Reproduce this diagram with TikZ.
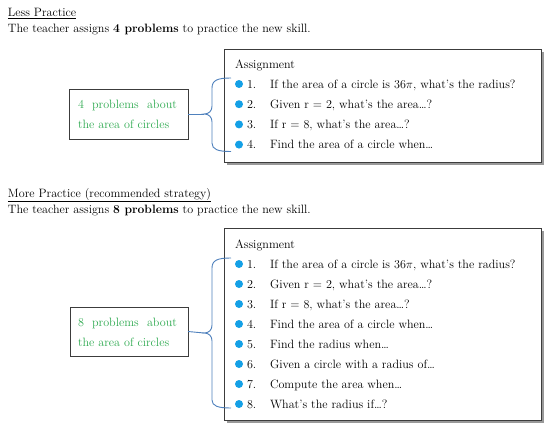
\documentclass[tikz,border=0pt]{standalone}
\usepackage{fontspec}
\definecolor{gtxt}{RGB}{46,170,80}
\definecolor{bul}{RGB}{20,160,230}
\definecolor{brc}{RGB}{79,129,189}
\definecolor{bord}{RGB}{60,60,60}
\begin{document}
\begin{tikzpicture}[x=1pt,y=-1pt,
  every node/.style={font=\fontsize{12.1}{14}\selectfont, inner sep=0pt, outer sep=0pt},
  txt/.style={anchor=base west},
  gt/.style={anchor=base west, text=gtxt},
  gbox/.style={draw=bord, line width=0.9pt, fill=white},
  abox/.style={draw=bord, line width=0.9pt, fill=white},
  shadowbox/.style={fill=black!40, draw=none},
  bulletdot/.style={circle, fill=bul, minimum size=8pt},
  bracec/.style={draw=brc, line width=0.9pt}
]
\useasboundingbox (0,0) rectangle (550,431);
\fill[white] (0,0) rectangle (550,431);

% ---------- Less Practice ----------
\node[txt] (h1) at (8,16.5) {\underline{Less Practice}};
\node[txt] (s1) at (8,32) {The teacher assigns \textbf{4 problems} to practice the new skill.};

\fill[shadowbox] (226.5,51.5) rectangle (543.5,164.5);
\node[abox, minimum width=317pt, minimum height=113pt] (A1) at (382.5,105.5) {};
\node[txt] (a1t) at (235,68) {Assignment};
\foreach \i/\t in {0/{If the area of a circle is 36$\pi$, what’s the radius?},
                   1/{Given r = 2, what’s the area\dots?},
                   2/{If r = 8, what’s the area\dots?},
                   3/{Find the area of a circle when\dots}}{
  \pgfmathsetmacro{\yy}{84+20.2*\i}
  \node[bulletdot] (b1\i) at (239,\yy) {};
  \node[txt] (n1\i) at (247,\yy+4.3) {\the\numexpr\i+1\relax.};
  \node[txt] (t1\i) at (270,\yy+4.3) {\t};
}

\node[gbox, minimum width=119pt, minimum height=50pt] (g1) at (128.5,114) {};
\node[gt] (g1a) at (78,108) {\makebox[99pt][s]{4 problems about}};
\node[gt] (g1b) at (78,128) {the area of circles};

\coordinate (br1top) at (231,78);
\coordinate (br1bot) at (231,151.5);
\coordinate (tip1) at (204,114);
\draw[bracec] (br1top) .. controls (218,78) and (212,80) .. (212,88) -- (212,106)
  .. controls (212,111) and (209,114) .. (tip1)
  .. controls (209,114) and (212,117) .. (212,122) -- (212,143)
  .. controls (212,149.5) and (218,151.5) .. (br1bot);
\draw[bracec] (g1.east) -- (tip1);

% ---------- More Practice ----------
\node[txt] (h2) at (8,197) {\underline{More Practice (recommended strategy)}};
\node[txt] (s2) at (8,213) {The teacher assigns \textbf{8 problems} to practice the new skill.};

\fill[shadowbox] (226.5,230.5) rectangle (543.5,422.5);
\node[abox, minimum width=317pt, minimum height=192pt] (A2) at (382.5,324) {};
\node[txt] (a2t) at (235,248) {Assignment};
\foreach \i/\t in {0/{If the area of a circle is 36$\pi$, what’s the radius?},
                   1/{Given r = 2, what’s the area\dots?},
                   2/{If r = 8, what’s the area\dots?},
                   3/{Find the area of a circle when\dots},
                   4/{Find the radius when\dots},
                   5/{Given a circle with a radius of\dots},
                   6/{Compute the area when\dots},
                   7/{What’s the radius if\dots?}}{
  \pgfmathsetmacro{\yy}{264+20*\i}
  \node[bulletdot] (b2\i) at (239,\yy) {};
  \node[txt] (n2\i) at (247,\yy+4.3) {\the\numexpr\i+1\relax.};
  \node[txt] (t2\i) at (270,\yy+4.3) {\t};
}

\node[gbox, minimum width=118pt, minimum height=49pt] (g2) at (129,331.5) {};
\node[gt] (g2a) at (78,326) {\makebox[99pt][s]{8 problems about}};
\node[gt] (g2b) at (78,346) {the area of circles};

\coordinate (br2top) at (231,258);
\coordinate (br2bot) at (231,408);
\coordinate (tip2) at (204,333);
\draw[bracec] (br2top) .. controls (218,258) and (212,260) .. (212,268) -- (212,325)
  .. controls (212,330) and (209,333) .. (tip2)
  .. controls (209,333) and (212,336) .. (212,341) -- (212,400)
  .. controls (212,406) and (218,408) .. (br2bot);
\draw[bracec] (g2.east) -- (tip2);
\end{tikzpicture}
\end{document}
